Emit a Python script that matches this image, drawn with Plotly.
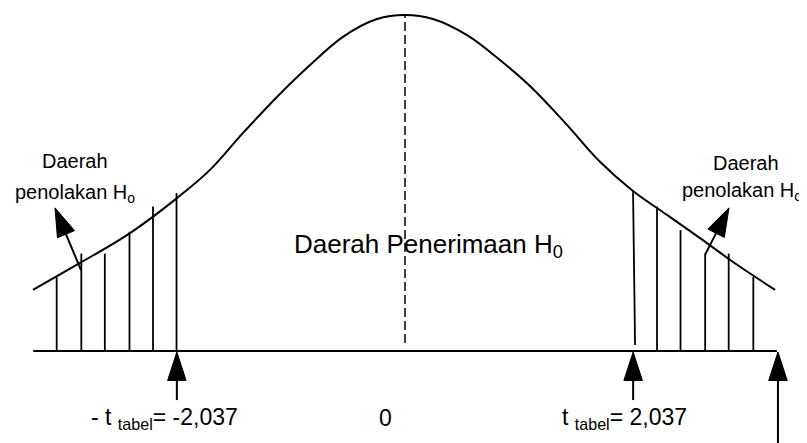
import plotly.graph_objects as go

# ---- data (t-scale, height relative to the peak) ----
curve_t = [-3.321, -2.902, -2.455, -2.036, -1.741, -1.446, -1.143, -0.848, -0.554, -0.250, 0.0,
           0.250, 0.554, 0.848, 1.143, 1.446, 1.741, 2.036, 2.339, 2.634, 2.929, 3.304]
curve_h = [0.182, 0.262, 0.351, 0.455, 0.539, 0.649, 0.756, 0.851, 0.935, 0.988, 1.0,
           0.988, 0.940, 0.866, 0.780, 0.673, 0.563, 0.476, 0.405, 0.336, 0.265, 0.182]

hatch_left_t = [-3.11, -2.89, -2.68, -2.46, -2.25, -2.04]
hatch_left_top = [0.22, 0.29, 0.29, 0.355, 0.43, 0.47]
hatch_right_t = [2.25, 2.46, 2.68, 2.89, 3.11]
hatch_right_top = [0.43, 0.36, 0.29, 0.29, 0.22]
edge_right_t = [2.054, 2.036]
edge_right_h = [0.018, 0.479]

t_crit = 2.037
t_hitung = 3.33
axis_t = [-3.32, 3.32]
center_t = [0.0, 0.0]
center_h = [0.024, 0.997]

# pointer arrows: (tail_t, tail_h, tip_t, tip_h)
pointer_left = [-2.893, 0.241, -3.125, 0.426]
pointer_right = [2.679, 0.286, 2.893, 0.426]

label_left = "- t <sub>tabel</sub>= -2,037"
label_zero = "0"
label_right = "t <sub>tabel</sub>= 2,037"
label_accept = "Daerah Penerimaan H<sub>0</sub>"
label_reject = "Daerah"
label_reject2 = "penolakan H<sub>o</sub>"

FONT = "Arial, Liberation Sans, sans-serif"
BLACK = "#000000"

fig = go.Figure()

# base axis line
fig.add_trace(go.Scatter(x=axis_t, y=[0, 0], mode="lines",
                         line=dict(color=BLACK, width=2), hoverinfo="skip"))
# bell curve
fig.add_trace(go.Scatter(x=curve_t, y=curve_h, mode="lines",
                         line=dict(color=BLACK, width=2, shape="spline", smoothing=1.0),
                         hoverinfo="skip"))
# dashed centre line
fig.add_trace(go.Scatter(x=center_t, y=center_h, mode="lines",
                         line=dict(color=BLACK, width=1.5, dash="9px,4px"), hoverinfo="skip"))

# hatch lines
hx, hy = [], []
for t, top in zip(hatch_left_t + hatch_right_t, hatch_left_top + hatch_right_top):
    hx += [t, t, None]
    hy += [0, top, None]
hx += edge_right_t
hy += edge_right_h
fig.add_trace(go.Scatter(x=hx, y=hy, mode="lines",
                         line=dict(color=BLACK, width=1.8), hoverinfo="skip"))

# arrows (line + arrow-head marker at the tip)
def arrow(ax, ay, x, y, head=30):
    fig.add_trace(go.Scatter(
        x=[ax, x], y=[ay, y], mode="lines+markers",
        line=dict(color=BLACK, width=2),
        marker=dict(symbol="arrow", size=[0, head], color=BLACK, angleref="previous",
                    opacity=1, line=dict(width=1, color=BLACK)),
        hoverinfo="skip"))

arrow(-t_crit, -0.146, -t_crit, -0.003)
arrow(t_crit, -0.146, t_crit, -0.003)
arrow(t_hitung, -0.32, t_hitung, -0.003)
arrow(*pointer_left)
arrow(*pointer_right)

def text(x, y, s, size, xanchor="center"):
    fig.add_annotation(x=x, y=y, xref="x", yref="y", text=s, showarrow=False,
                       font=dict(family=FONT, size=size, color=BLACK),
                       xanchor=xanchor, yanchor="middle")

text(-2.946, 0.565, label_reject, 20)
text(-2.946, 0.470, label_reject2, 20)
text(3.045, 0.560, label_reject, 20)
text(2.455, 0.475, label_reject2, 20, xanchor="left")
text(0.214, 0.315, label_accept, 26)
text(-2.15, -0.20, label_left, 23)
text(-0.17, -0.20, label_zero, 23)
text(1.96, -0.20, label_right, 23)

# page body has an 8px margin: the 799x435 figure fills the 807x443 window
fig.update_layout(
    width=799, height=435, autosize=False,
    margin=dict(l=0, r=0, t=0, b=0),
    paper_bgcolor="white", plot_bgcolor="white",
    showlegend=False,
    xaxis=dict(range=[-3.5446, 3.5893], visible=False, fixedrange=True),
    yaxis=dict(range=[-0.2738, 1.0208], visible=False, fixedrange=True),
)

fig.write_html("out.html")
